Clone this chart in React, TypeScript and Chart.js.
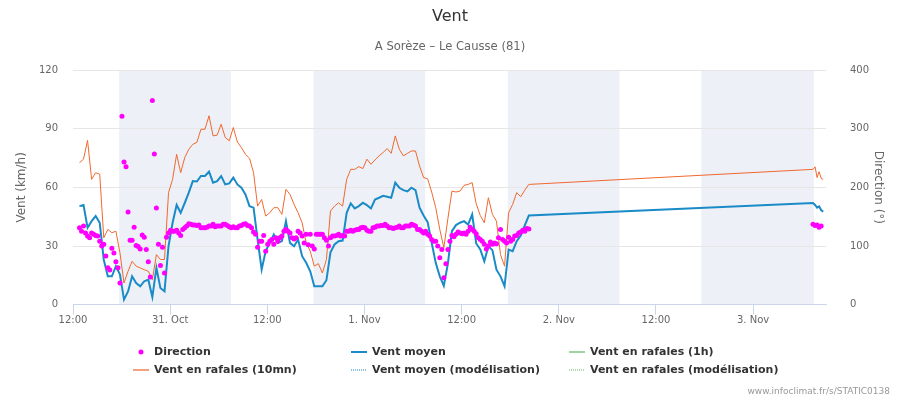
import React, { useEffect, useRef } from "react";
import { Chart, registerables } from "chart.js";

Chart.register(...registerables);

// Time axis: hours since 30 Oct 12:00
const tickHours = [0, 12, 24, 36, 48, 60, 72, 84];
const tickLabels = ["12:00", "31. Oct", "12:00", "1. Nov", "12:00", "2. Nov", "12:00", "3. Nov"];
const axisMaxHour = 93;

// Night periods (hours since 30 Oct 12:00)
const nightStart = [5.7, 29.7, 53.7, 77.6];
const nightEnd = [19.5, 43.5, 67.5, 91.5];

// Observations, first block: every 30 min from obsStart
const obsStart = 0.8;
const obsStep = 0.5;
const ventMoyen = [
  50.4, 51, 39.3, 42.7, 45.3, 41.9, 23, 14.5, 14.5, 19.7,
  15.4, 2.6, 6.8, 14.5, 11.1, 9.4, 12, 12.8, 3.9, 18.8,
  8.5, 6.8, 30, 41.9, 51, 47, 52, 57.3, 63.2, 63,
  65.8, 65.8, 68, 62.4, 63.2, 65.8, 61.5, 62, 65, 61.5,
  59.8, 56.4, 50.4, 49.6, 33.3, 18, 27.4, 31.6, 35.9, 31.6,
  32.5, 42.7, 31.6, 29.9, 33.3, 24.8, 21.4, 17.1, 9.4, 9.4,
  9.4, 12.5, 26.8, 30.8, 32.5, 32.8, 47, 51.8, 49.2, 50.4,
  52.1, 50.9, 49.2, 53.8, 54.7, 55.7, 55.2, 54.7, 62.4, 59.8,
  58.6, 57.9, 59.8, 58.6, 49.6, 45.6, 42.2, 31.6, 21.4, 14.5,
  9.7, 21, 37.6, 40.7, 41.9, 42.7, 41, 46.2, 31.3, 28.2,
  22.2, 29.9, 27.9, 17.9, 14.5, 9.4, 28.2, 27.4, 32.5, 35.4,
  40.5, 45.6,
];
const rafales10 = [
  72.6, 74.4, 84, 64.1, 67.5, 66.7, 34.2, 38.5, 36.8, 37.6,
  26.5, 11.1, 17.1, 22.2, 19.7, 18.8, 17.9, 17.1, 12.8, 25.6,
  23.1, 23.1, 57.3, 64.1, 76.9, 67.5, 75.2, 79.5, 82, 83,
  89.7, 89.7, 96.6, 86.3, 86.7, 92.3, 85.5, 83.8, 90.6, 83.2,
  80.3, 76.9, 74.9, 67.5, 50.4, 53.8, 45.3, 47, 49.6, 49.6,
  46.2, 59, 56.4, 51.3, 47, 41.9, 31.6, 27.4, 19.7, 21,
  16.2, 23.1, 47.9, 50.4, 52.1, 50.4, 64.1, 69.2, 69.2, 70.6,
  69.6, 74.4, 71.8, 74, 76.1, 77.8, 79.8, 77.4, 86.3, 79.5,
  76.1, 77.4, 78.6, 78.6, 70.9, 65, 64.4, 57.6, 49.6, 38.5,
  29.1, 44, 58.1, 57.6, 58.1, 61, 61.5, 62.4, 51.6, 45.6,
  41.9, 54.7, 46.2, 42.7, 25.6, 19.7, 47, 51.3, 57.3, 55.2,
  58.6, 61.5,
];
// Direction: every 15 min from dirStart
const dirStart = 0.8;
const dirStep = 0.25;
const direction = [
  131, 125, 134, 122, 117, 114, 122, 120, 118, 117,
  108, 100, 103, 83, 63, 59, 96, 88, 73, 63,
  37, 321, 243, 235, 158, 110, 110, 132, 101, 99,
  95, 119, 115, 94, 73, 47, 348, 257, 165, 103,
  67, 98, 54, 115, 122, 127, 125, 125, 127, 122,
  118, 128, 131, 134, 138, 137, 136, 136, 135, 136,
  131, 131, 131, 132, 134, 134, 137, 133, 134, 134,
  134, 137, 137, 135, 133, 131, 133, 131, 131, 134,
  135, 137, 138, 135, 134, 131, 124, 120, 98, 108,
  108, 118, 91, 103, 108, 111, 103, 114, 108, 114,
  117, 125, 128, 125, 122, 114, 112, 114, 125, 122,
  117, 105, 120, 102, 120, 100, 95, 120, 120, 120,
  120, 114, 110, 100, 114, 117, 117, 118, 120, 117,
  118, 117, 125, 125, 127, 125, 127, 128, 128, 131,
  132, 131, 127, 125, 125, 131, 132, 134, 134, 135,
  135, 137, 134, 131, 131, 130, 131, 132, 134, 131,
  131, 134, 134, 134, 137, 136, 134, 128, 128, 125,
  122, 125, 120, 117, 111, 108, 108, 100, 80, 94,
  46, 70, 94, 108, 118,
  116, 120, 124, 122, 121, 122, 120, 125, 132, 128,
  125, 121, 114, 111, 108, 103, 95, 100, 107, 103,
  105, 104, 114, 128, 111, 108, 105, 115, 108, 111,
  117, 118, 122, 124, 127, 125, 130, 129,
];

// Observations, last block: every 15 min from lateStart
const lateStart = 91.4;
const lateStep = 0.25;
const ventMoyenLate = [52, 51, 49.6, 50.3, 48.4, 47.5];
const rafales10Late = [69.2, 70.5, 65, 68, 64.6, 64.1];
const directionLate = [137, 135, 136, 132, 134];

const FONT = '"DejaVu Sans", sans-serif';

const toPoints = (vals: number[], start: number, step: number) =>
  vals.map((v, i) => ({ x: start + i * step, y: v }));

const legendItems = [
  { label: "Direction", kind: "dot", color: "#ff00ff", col: 0, row: 0 },
  { label: "Vent moyen", kind: "line", color: "#1a8bc7", col: 1, row: 0 },
  { label: "Vent en rafales (1h)", kind: "line", color: "#9fd69f", col: 2, row: 0 },
  { label: "Vent en rafales (10mn)", kind: "line", color: "#f4a283", col: 0, row: 1 },
  { label: "Vent moyen (modélisation)", kind: "dotted", color: "#8cc3e2", col: 1, row: 1 },
  { label: "Vent en rafales (modélisation)", kind: "dotted", color: "#a9dca9", col: 2, row: 1 },
];
const legendColX = [154, 372, 590];
const legendRowY = [352, 370];

const decorPlugin = {
  id: "decor",
  beforeDraw(chart: any) {
    const { ctx, chartArea, scales } = chart;
    const xs = scales.x;
    ctx.save();
    ctx.fillStyle = "#edf0f7";
    nightStart.forEach((s, k) => {
      const x1 = Math.max(xs.getPixelForValue(s), chartArea.left);
      const x2 = Math.min(xs.getPixelForValue(nightEnd[k]), chartArea.right);
      ctx.fillRect(x1, chartArea.top, x2 - x1, chartArea.bottom - chartArea.top);
    });
    ctx.restore();
  },
  afterDraw(chart: any) {
    const { ctx } = chart;
    ctx.save();
    ctx.textAlign = "center";
    ctx.textBaseline = "middle";
    ctx.fillStyle = "#333333";
    ctx.font = `16px ${FONT}`;
    ctx.fillText("Vent", 450, 17);
    ctx.fillStyle = "#666666";
    ctx.font = `11.6px ${FONT}`;
    ctx.fillText("A Sorèze – Le Causse (81)", 450, 47);

    // legend
    ctx.textAlign = "left";
    ctx.font = `bold 11px ${FONT}`;
    legendItems.forEach((it) => {
      const tx = legendColX[it.col];
      const y = legendRowY[it.row];
      if (it.kind === "dot") {
        ctx.fillStyle = it.color;
        ctx.beginPath();
        ctx.arc(tx - 13, y, 2.5, 0, Math.PI * 2);
        ctx.fill();
      } else {
        ctx.strokeStyle = it.color;
        ctx.lineWidth = 2;
        ctx.setLineDash(it.kind === "dotted" ? [1, 1] : []);
        ctx.beginPath();
        ctx.moveTo(tx - 21, y);
        ctx.lineTo(tx - 5, y);
        ctx.stroke();
        ctx.setLineDash([]);
      }
      ctx.fillStyle = "#333333";
      ctx.fillText(it.label, tx, y);
    });

    // credits
    ctx.textAlign = "right";
    ctx.fillStyle = "#999999";
    ctx.font = `9px ${FONT}`;
    ctx.fillText("www.infoclimat.fr/s/STATIC0138", 890, 392);
    ctx.restore();
  },
};

export default function App() {
  const ref = useRef<HTMLCanvasElement | null>(null);

  useEffect(() => {
    document.body.style.margin = "0";
    if (!ref.current) return;
    const moyenPts = [...toPoints(ventMoyen, obsStart, obsStep), ...toPoints(ventMoyenLate, lateStart, lateStep)];
    const rafPts = [...toPoints(rafales10, obsStart, obsStep), ...toPoints(rafales10Late, lateStart, lateStep)];
    const dirPts = [...toPoints(direction, dirStart, dirStep), ...toPoints(directionLate, lateStart, lateStep)];

    const chart = new Chart(ref.current, {
      type: "line",
      data: {
        datasets: [
          {
            label: "Direction",
            data: dirPts,
            yAxisID: "y2",
            showLine: false,
            pointRadius: 2.5,
            pointBorderWidth: 0,
            pointBackgroundColor: "#ff00ff",
            pointBorderColor: "#ff00ff",
            order: 0,
          },
          {
            label: "Vent en rafales (10mn)",
            data: rafPts,
            yAxisID: "y",
            borderColor: "#f0692f",
            borderWidth: 1,
            pointRadius: 0,
            tension: 0,
            order: 1,
          },
          {
            label: "Vent moyen",
            data: moyenPts,
            yAxisID: "y",
            borderColor: "#1a8bc7",
            borderWidth: 2,
            pointRadius: 0,
            tension: 0,
            order: 2,
          },
        ],
      } as any,
      options: {
        animation: false,
        responsive: false,
        events: [],
        layout: { padding: { top: 70, left: 0, right: 0, bottom: 0 } },
        plugins: {
          legend: { display: false },
          title: { display: false },
          tooltip: { enabled: false },
        },
        scales: {
          x: {
            type: "linear",
            min: 0,
            max: axisMaxHour,
            afterBuildTicks: (axis: any) => {
              axis.ticks = tickHours.map((v) => ({ value: v }));
            },
            afterFit: (s: any) => {
              s.height = 95.3;
            },
            ticks: {
              autoSkip: false,
              maxRotation: 0,
              padding: 0,
              color: "#666666",
              font: { family: FONT, size: 10 },
              callback: (v: any) => {
                const k = tickHours.indexOf(Number(v));
                return k >= 0 ? tickLabels[k] : "";
              },
            },
            grid: { drawOnChartArea: false, drawTicks: true, tickLength: 10, color: "#ccd6eb" },
            border: { color: "#ccd6eb" },
          },
          y: {
            position: "left",
            min: 0,
            max: 120,
            afterFit: (s: any) => {
              s.width = 73;
            },
            ticks: { stepSize: 30, padding: 15, color: "#666666", font: { family: FONT, size: 10 } },
            grid: { color: "#e6e6e6", drawTicks: false },
            border: { display: false },
            title: {
              display: true,
              text: "Vent (km/h)",
              color: "#666666",
              font: { family: FONT, size: 12 },
              padding: { top: 14.8, bottom: 0 },
            },
          },
          y2: {
            position: "right",
            min: 0,
            max: 400,
            afterFit: (s: any) => {
              s.width = 74;
            },
            ticks: { stepSize: 100, padding: 16, color: "#666666", font: { family: FONT, size: 10 } },
            grid: { display: false, drawOnChartArea: false },
            border: { display: false },
            title: {
              display: true,
              text: "Direction (°)",
              color: "#666666",
              font: { family: FONT, size: 12 },
              padding: { top: 14.8, bottom: 0 },
            },
          },
        },
      } as any,
      plugins: [decorPlugin],
    });
    return () => chart.destroy();
  }, []);

  return (
    <div style={{ width: 900, height: 400, position: "relative" }}>
      <canvas ref={ref} width={900} height={400} style={{ display: "block" }} />
    </div>
  );
}
